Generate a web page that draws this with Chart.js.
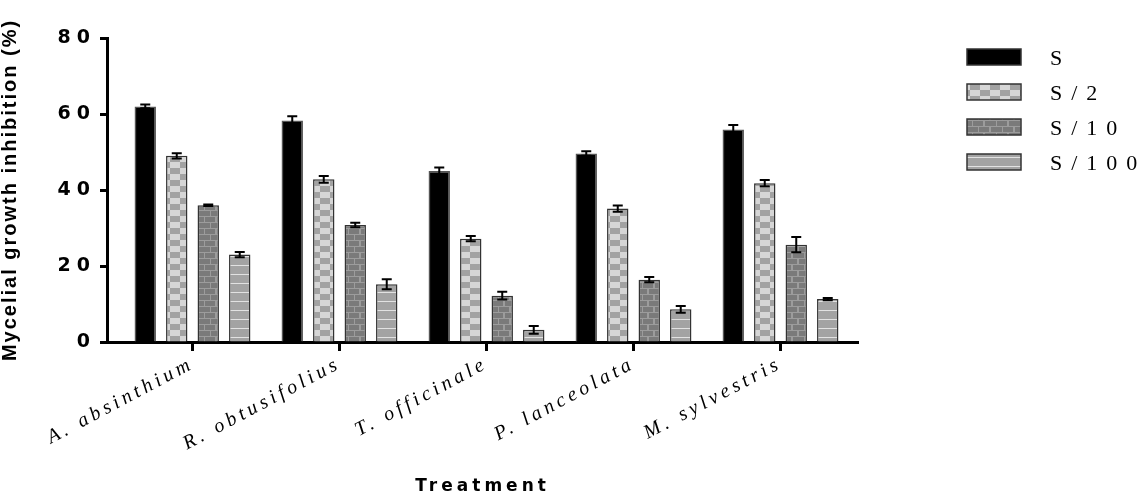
<!DOCTYPE html>
<html>
<head>
<meta charset="utf-8">
<script src="https://cdn.jsdelivr.net/npm/chart.js@4.4.1/dist/chart.umd.min.js"></script>
<style>
  html, body { margin: 0; padding: 0; background: #fff; }
</style>
</head>
<body>
<canvas id="myChart" width="1148" height="501"></canvas>
<script>
// data
const treatments = ['A. absinthium', 'R. obtusifolius', 'T. officinale', 'P. lanceolata', 'M. sylvestris'];
const seriesNames = ['S', 'S/2', 'S/10', 'S/100'];
const sFull    = [62.0, 58.3, 45.0, 49.6, 55.9];
const sHalf    = [49.0, 42.8, 27.2, 35.1, 41.8];
const sTenth   = [36.0, 30.8, 12.2, 16.4, 25.6];
const sHundred = [23.0, 15.2, 3.2, 8.6, 11.3];
const errFull    = [0.5, 1.1, 0.9, 0.6, 1.2];
const errHalf    = [0.7, 0.9, 0.7, 0.8, 0.8];
const errTenth   = [0.2, 0.6, 1.0, 0.7, 2.0];
const errHundred = [0.7, 1.3, 1.0, 0.9, 0.3];
const yTicks = [0, 20, 40, 60, 80];

var canvas = document.getElementById('myChart');
var ctx = canvas.getContext('2d');

// fill patterns like the prism export
function tile(w, h, paint) {
    let c = document.createElement('canvas');
    c.width = w; c.height = h;
    paint(c.getContext('2d'));
    return ctx.createPattern(c, 'repeat');
}
const checker = tile(20, 12, function(g) {
    g.fillStyle = '#a2a2a2'; g.fillRect(0, 0, 20, 12);
    g.fillStyle = '#d6d6d6'; g.fillRect(0, 0, 10, 6); g.fillRect(10, 6, 10, 6);
});
const brick = tile(24, 12, function(g) {
    g.fillStyle = '#9c9c9c'; g.fillRect(0, 0, 24, 12);
    g.fillStyle = '#7a7a7a';
    g.fillRect(1, 1, 11, 5); g.fillRect(13, 1, 10, 5);
    g.fillRect(0, 7, 5, 5); g.fillRect(7, 7, 11, 5); g.fillRect(19, 7, 5, 5);
});
const lines = tile(8, 9, function(g) {
    g.fillStyle = '#a3a3a3'; g.fillRect(0, 0, 8, 9);
    g.fillStyle = '#e2e2e2'; g.fillRect(0, 4, 8, 1);
});

const fills = ['#000000', checker, brick, lines];
const values = [sFull, sHalf, sTenth, sHundred];
const errors = [errFull, errHalf, errTenth, errHundred];

// letter spaced text on the axes
function spaced(scale, fn, sp) {
    let orig = scale[fn];
    if (orig._spaced) return;
    let w = function() {
        let c = this.ctx, old = c.letterSpacing;
        c.letterSpacing = sp;
        orig.apply(this, arguments);
        c.letterSpacing = old;
    };
    w._spaced = true;
    scale[fn] = w;
}

const axisTweaks = {
    id: 'axisTweaks',
    afterLayout: function(chart) {
        // prism leaves a small gap between the y axis and the first group
        let x = chart.scales.x;
        let padL = 12, padR = 4;
        let pitch = (x.width - padL - padR) / treatments.length;
        x._valueRange = x.width / pitch;
        x._startValue = -0.5 - padL / pitch;
        spaced(x, 'drawLabels', '4px');
        spaced(x, 'drawTitle', '4px');
        spaced(chart.scales.y, 'drawLabels', '6px');
        spaced(chart.scales.y, 'drawTitle', '2px');
    }
};

const errorBars = {
    id: 'errorBars',
    afterDatasetsDraw: function(chart) {
        let c = chart.ctx, y = chart.scales.y;
        c.save();
        c.strokeStyle = '#000';
        c.lineWidth = 2;
        chart.data.datasets.forEach(function(ds, i) {
            chart.getDatasetMeta(i).data.forEach(function(bar, j) {
                let hi = y.getPixelForValue(ds.data[j] + errors[i][j]);
                let lo = y.getPixelForValue(ds.data[j] - errors[i][j]);
                c.beginPath();
                c.moveTo(bar.x, hi); c.lineTo(bar.x, lo);
                c.moveTo(bar.x - 5, hi); c.lineTo(bar.x + 5, hi);
                c.moveTo(bar.x - 5, lo); c.lineTo(bar.x + 5, lo);
                c.stroke();
            });
        });
        c.restore();
    }
};

const sideLegend = {
    id: 'sideLegend',
    afterDraw: function(chart) {
        let c = chart.ctx;
        chart.data.datasets.forEach(function(ds, i) {
            let cy = 57 + i * 35;
            c.save();
            c.fillStyle = ds.backgroundColor;
            c.fillRect(967, cy - 8, 54, 16);
            c.strokeStyle = '#333';
            c.lineWidth = 1.5;
            c.strokeRect(967, cy - 8, 54, 16);
            c.fillStyle = '#000';
            c.font = '22px "Liberation Serif"';
            c.letterSpacing = '9px';
            c.textBaseline = 'middle';
            c.fillText(ds.label, 1050, cy + 2);
            c.restore();
        });
    }
};

var chart = new Chart(ctx, {
    type: 'bar',
    data: {
        labels: treatments,
        datasets: seriesNames.map(function(name, i) {
            return {
                label: name,
                data: values[i],
                backgroundColor: fills[i],
                borderColor: i === 0 ? '#555' : '#333',
                borderWidth: 1.5,
                categoryPercentage: 0.857,
                barPercentage: 0.68
            };
        })
    },
    options: {
        responsive: false,
        animation: false,
        layout: { padding: { top: 38, right: 290, left: 0, bottom: 0 } },
        plugins: {
            legend: { display: false },
            tooltip: { enabled: false }
        },
        scales: {
            x: {
                offset: true,
                grid: { display: true, drawOnChartArea: false, offset: false, tickLength: 9, tickWidth: 3, tickColor: '#000' },
                border: { display: true, color: '#000', width: 3 },
                ticks: {
                    autoSkip: false, minRotation: 28, maxRotation: 28, padding: 1,
                    color: '#000',
                    font: { family: '"Liberation Serif"', style: 'italic', size: 20 }
                },
                title: {
                    display: true, text: 'Treatment', color: '#000',
                    font: { family: '"DejaVu Sans"', weight: 'bold', size: 17 },
                    padding: { top: 0, bottom: 4 }
                },
                afterFit: function(s) { s.height = 159; }
            },
            y: {
                min: 0, max: 80,
                afterBuildTicks: function(s) { s.ticks = yTicks.map(function(v) { return { value: v }; }); },
                grid: { display: true, drawOnChartArea: false, tickLength: 7, tickWidth: 3, tickColor: '#000' },
                border: { display: true, color: '#000', width: 3 },
                ticks: {
                    color: '#000', padding: 4,
                    font: { family: '"DejaVu Sans"', weight: 'bold', size: 19 }
                },
                title: {
                    display: true, text: 'Mycelial growth inhibition (%)', color: '#000',
                    font: { family: '"Liberation Sans"', weight: 'bold', size: 20, lineHeight: 1 },
                    padding: { top: 0, bottom: 0 }
                },
                afterFit: function(s) { s.width = 107; }
            }
        }
    },
    plugins: [axisTweaks, errorBars, sideLegend]
});
</script>
</body>
</html>
